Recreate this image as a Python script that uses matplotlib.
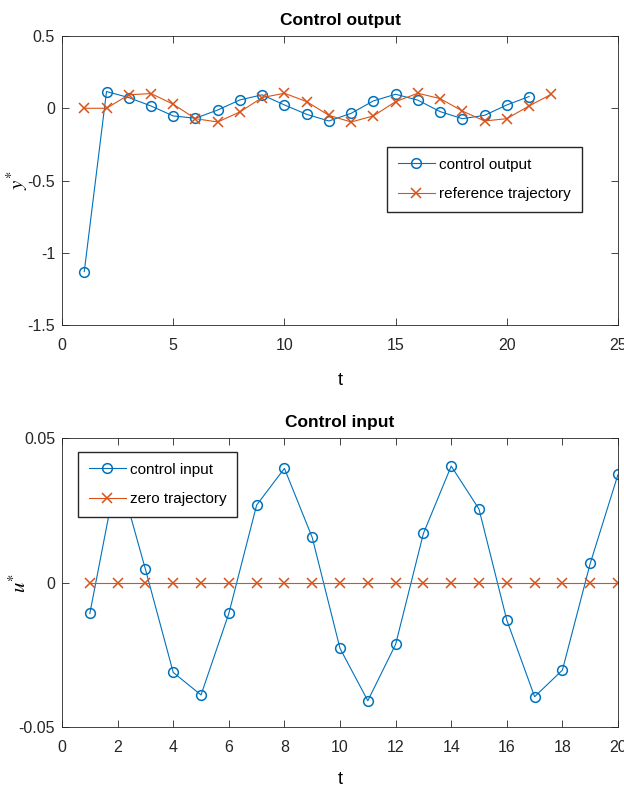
import matplotlib
matplotlib.use("Agg")
import matplotlib.pyplot as plt

# control output vs reference trajectory (top panel)
t_out = list(range(1, 22))
y_out = [-1.13, 0.116, 0.074, 0.016, -0.053, -0.069, -0.012, 0.058, 0.093, 0.023,
         -0.042, -0.088, -0.035, 0.051, 0.097, 0.056, -0.023, -0.072, -0.049, 0.023, 0.081]
t_ref = list(range(1, 23))
y_ref = [0.0, 0.0, 0.093, 0.102, 0.028, -0.072, -0.095, -0.025, 0.074, 0.104, 0.046,
         -0.049, -0.095, -0.053, 0.046, 0.104, 0.067, -0.019, -0.088, -0.072, 0.016, 0.097]

# control input vs zero trajectory (bottom panel)
t_in = list(range(1, 21))
u_in = [-0.0107, 0.039, 0.0046, -0.0311, -0.0389, -0.0107, 0.0268, 0.0395, 0.0156, -0.0228,
        -0.0409, -0.0214, 0.0170, 0.0403, 0.0254, -0.0130, -0.0395, -0.0303, 0.0066, 0.0374]
u_zero = [0.0] * 20

BLUE = '#0072BD'
ORANGE = '#D95319'

plt.rcParams['font.family'] = ['Liberation Sans', 'DejaVu Sans']
plt.rcParams['mathtext.fontset'] = 'stix'

fig = plt.figure(figsize=(6.24, 7.90), dpi=100)
ax1 = fig.add_axes([0.0994, 0.5886, 0.8910, 0.3658])
ax2 = fig.add_axes([0.0994, 0.0797, 0.8910, 0.3658])

line_kw = dict(linewidth=0.8, markersize=7, markeredgewidth=1.1)
leg_kw = dict(loc='upper left', fontsize=11, fancybox=False, edgecolor='#262626',
              framealpha=1, borderpad=0.7, borderaxespad=0, handlelength=2.4,
              handletextpad=0.3, labelspacing=1.0)

ax1.plot(t_out, y_out, '-o', color=BLUE, markerfacecolor='none', label='control output', **line_kw)
ax1.plot(t_ref, y_ref, '-x', color=ORANGE, label='reference trajectory', **line_kw)
ax1.set_xlim(0, 25)
ax1.set_ylim(-1.5, 0.5)
ax1.set_xticks([0, 5, 10, 15, 20, 25])
ax1.set_yticks([-1.5, -1, -0.5, 0, 0.5])
ax1.set_yticklabels(['-1.5', '-1', '-0.5', '0', '0.5'])
ax1.set_title('Control output', fontsize=12.5, fontweight='bold', pad=8)
ax1.set_xlabel('t', fontsize=13, labelpad=14)
ax1.set_ylabel(r'$y^{*}$', fontsize=15)
ax1.legend(bbox_to_anchor=(0.585, 0.616), **leg_kw)

ax2.plot(t_in, u_in, '-o', color=BLUE, markerfacecolor='none', label='control input', **line_kw)
ax2.plot(t_in, u_zero, '-x', color=ORANGE, label='zero trajectory', **line_kw)
ax2.set_xlim(0, 20)
ax2.set_ylim(-0.05, 0.05)
ax2.set_xticks(range(0, 21, 2))
ax2.set_yticks([-0.05, 0, 0.05])
ax2.set_yticklabels(['-0.05', '0', '0.05'])
ax2.set_title('Control input', fontsize=12.5, fontweight='bold', pad=8)
ax2.set_xlabel('t', fontsize=13, labelpad=12)
ax2.set_ylabel(r'$u^{*}$', fontsize=15)
ax2.legend(bbox_to_anchor=(0.029, 0.952), **leg_kw)

for ax in (ax1, ax2):
    ax.tick_params(direction='in', top=True, right=True, labelsize=11.5,
                   length=5, width=0.6, colors='#262626', labelcolor='#262626')
    ax.tick_params(axis='x', pad=9)
    ax.tick_params(axis='y', pad=5)
    ax.yaxis.set_label_coords(-0.058, 0.5)
    for s in ax.spines.values():
        s.set_linewidth(0.6)
        s.set_color('#262626')

fig.savefig('out.png', dpi=100)
